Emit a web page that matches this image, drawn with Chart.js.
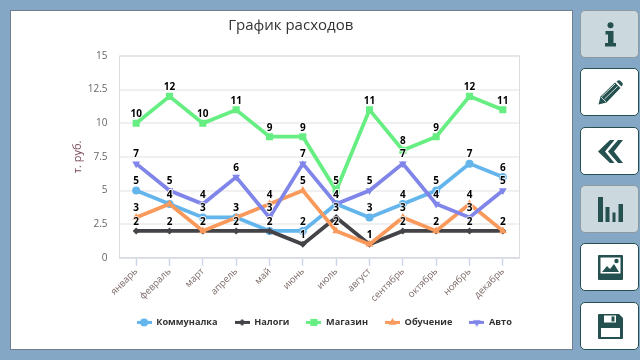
<!DOCTYPE html>
<html>
<head>
  <meta charset="utf-8">
  <title>График расходов</title>
  <script src="https://cdn.jsdelivr.net/npm/chart.js@4"></script>
  <style>
  html, body {
    margin: 0;
    width: 640px;
    height: 360px;
    overflow: hidden;
    background: #85a7c6;
  }
  #panel {
    position: absolute;
    left: 10px;
    top: 10px;
    width: 561px;
    height: 338px;
    background: #fff;
    border: 1px solid #6f7f8c;
  }
  #panel canvas {
    position: absolute;
    left: 0;
    top: 0;
  }
  .btn {
    position: absolute;
    left: 580px;
    width: 59px;
    height: 48px;
    box-sizing: border-box;
    background: #fff;
    border: 1px solid #24504f;
    border-radius: 5px;
    display: flex;
    align-items: center;
    justify-content: center;
  }
  .btn.on {
    background: #cbd8de;
    border-color: #8d9a9f;
  }
  .btn svg {
    width: 25px;
    height: 25px;
    margin-left: 1px;
    fill: #24504f;
  }
  </style>
</head>
<body>
  <div id="panel"><canvas id="chart" width="561" height="338"></canvas></div>

  <div class="btn on" style="top:10px"><svg viewBox="0 0 25 25"><circle cx="12.5" cy="3.2" r="3"/><path d="M7.500 9H15.500V21H18V24.500H7V21H10V12.500H7.500z"/></svg></div>
  <div class="btn" style="top:68px"><svg viewBox="0 0 25 25"><path d="M0.500 24.500L2.500 16.500L17 2.500L22.500 8L8.500 22.500z M18.500 1.500L20 0.500Q21.500 0 22.500 1L24.500 3Q25 4 24.500 5L23.500 6.500z"/><path d="M4 16.500L17 4M6.500 19L19.500 6.500M3 17L8 22" stroke="#fff" stroke-width=".8" fill="none"/></svg></div>
  <div class="btn" style="top:127px"><svg viewBox="0 0 25 25"><path d="M0 12.500L12 1H16.500L7 12.500L16.500 24H12z M10 12.500L20 1H25L16 12.500L25 24H20z"/></svg></div>
  <div class="btn on" style="top:185px"><svg viewBox="0 0 25 25"><path d="M0 0H5V25H0z M7.500 10H11.500V25H7.500z M14.500 15.500H17.500V25H14.500z M20.500 7H25V25H20.500z"/></svg></div>
  <div class="btn" style="top:243px"><svg viewBox="0 0 25 25"><path fill-rule="evenodd" d="M1 0H24Q25 0 25 1V24Q25 25 24 25H1Q0 25 0 24V1Q0 0 1 0z M2.500 2.500V18.500H22.500V2.500z"/><path d="M4 17L9 11L12 14L16 9L21 17z"/><circle cx="18.500" cy="6" r="2.200"/></svg></div>
  <div class="btn" style="top:302px"><svg viewBox="0 0 25 25"><path fill-rule="evenodd" d="M1 0H21L25 4V24Q25 25 24 25H1Q0 25 0 24V1Q0 0 1 0z M6 1.500V8.500H18V1.500z M3 14V23H22V14z"/><path d="M13.500 2.500H16.500V7.500H13.500z"/></svg></div>

  <script>
    const months = ['январь', 'февраль', 'март', 'апрель', 'май', 'июнь', 'июль', 'август', 'сентябрь', 'октябрь', 'ноябрь', 'декабрь'];
    const kommunalka = [5, 4, 3, 3, 2, 2, 4, 3, 4, 5, 7, 6];
    const nalogi = [2, 2, 2, 2, 2, 1, 3, 1, 2, 2, 2, 2];
    const magazin = [10, 12, 10, 11, 9, 9, 5, 11, 8, 9, 12, 11];
    const obuchenie = [3, 4, 2, 3, 4, 5, 2, 1, 3, 2, 4, 2];
    const avto = [7, 5, 4, 6, 3, 7, 4, 5, 7, 4, 3, 5];

    const colors = ['#64b5ec', '#434348', '#66ee82', '#f99a5c', '#8085e9'];

    function makeSeries(i, label, data, pointStyle, radius, rotation) {
      return {
        label: label,
        data: data,
        order: -i,
        borderColor: colors[i],
        backgroundColor: colors[i],
        borderWidth: 3.75,
        tension: 0,
        pointStyle: pointStyle,
        pointRotation: rotation || 0,
        pointRadius: radius,
        pointHoverRadius: radius,
        pointBorderWidth: 0
      };
    }

    // значок легенды: отрезок линии с маркером
    function legendIcon(ds) {
      const c = document.createElement('canvas');
      c.width = 15;
      c.height = 9;
      const g = c.getContext('2d');
      g.fillStyle = ds.borderColor;
      g.fillRect(0, 3, 15, 3);
      Chart.helpers.drawPoint(g, {
        pointStyle: ds.pointStyle,
        rotation: ds.pointRotation,
        radius: ds.pointRadius,
        borderWidth: 0
      }, 7.5, 4.5);
      return c;
    }

    const extras = {
      id: 'extras',
      // заголовок и легенда в оригинале стоят не по центру холста
      afterLayout(chart) {
        chart.titleBlock.left -= 4.5;
        chart.titleBlock.right -= 4.5;
        chart.legend.left += 29;
        chart.legend.right += 29;
        chart.legend.top -= 8;
        chart.legend.bottom -= 8;
      },
      beforeDatasetsDraw(chart) {
        const a = chart.chartArea;
        const ctx = chart.ctx;
        ctx.save();
        ctx.strokeStyle = '#dcdcdc';
        ctx.lineWidth = 1;
        ctx.strokeRect(a.left, a.top, a.right - a.left, a.bottom - a.top);
        ctx.restore();
      },
      // подписи значений над точками
      afterDatasetsDraw(chart) {
        const ctx = chart.ctx;
        ctx.save();
        ctx.font = 'bold 10px "Open Sans"';
        ctx.textAlign = 'center';
        ctx.textBaseline = 'bottom';
        ctx.lineWidth = 2;
        ctx.lineJoin = 'round';
        ctx.strokeStyle = 'rgba(255,255,255,0.75)';
        ctx.fillStyle = '#000';
        chart.data.datasets.forEach((ds, i) => {
          chart.getDatasetMeta(i).data.forEach((pt, j) => {
            ctx.strokeText(ds.data[j], pt.x, pt.y - 4);
            ctx.fillText(ds.data[j], pt.x, pt.y - 4);
          });
        });
        ctx.restore();
      }
    };

    new Chart(document.getElementById('chart'), {
      type: 'line',
      data: {
        labels: months,
        datasets: [
          makeSeries(0, 'Коммуналка', kommunalka, 'circle', 4),
          makeSeries(1, 'Налоги', nalogi, 'rectRot', 3.5),
          makeSeries(2, 'Магазин', magazin, 'rect', 5),
          makeSeries(3, 'Обучение', obuchenie, 'triangle', 4.5),
          makeSeries(4, 'Авто', avto, 'triangle', 4.5, 180)
        ]
      },
      options: {
        responsive: false,
        animation: false,
        layout: { padding: { left: 60, right: 52.5, top: 6, bottom: 4 } },
        plugins: {
          title: {
            display: true,
            text: 'График расходов',
            color: '#333',
            font: { family: '"Open Sans"', size: 15, weight: 'normal' },
            padding: { top: 0, bottom: 21 }
          },
          legend: {
            position: 'bottom',
            labels: {
              usePointStyle: true,
              pointStyleWidth: 15,
              boxHeight: 9,
              color: '#333',
              font: { family: '"Open Sans"', size: 9.2, weight: 'bold' },
              padding: 17,
              sort: (a, b) => a.datasetIndex - b.datasetIndex,
              generateLabels(chart) {
                return Chart.defaults.plugins.legend.labels.generateLabels(chart).map(item => {
                  item.pointStyle = legendIcon(chart.data.datasets[item.datasetIndex]);
                  item.rotation = 0;
                  return item;
                });
              }
            }
          },
          tooltip: { enabled: false }
        },
        scales: {
          x: {
            offset: true,
            afterFit(scale) { scale.height = 51; },
            grid: { offset: false, drawOnChartArea: false, tickColor: '#ccd6eb', tickLength: 8, tickWidth: 1.5 },
            border: { color: '#ccd6eb', width: 1.5 },
            ticks: {
              color: '#7a6a66',
              padding: 0,
              maxRotation: 45,
              minRotation: 45,
              font: { family: '"Open Sans"', size: 9.5 },
              autoSkip: false
            }
          },
          y: {
            min: 0,
            max: 15,
            afterFit(scale) { scale.width = 48.5; },
            grid: { color: '#f0f0f0', drawTicks: false, lineWidth: 2 },
            border: { color: '#dcdcdc' },
            title: {
              display: true,
              text: 'т. руб.',
              color: '#7a4a5a',
              font: { family: '"Open Sans"', size: 11 },
              padding: { top: 0, bottom: 0 }
            },
            ticks: {
              color: '#666',
              stepSize: 2.5,
              padding: 12,
              font: { family: '"Open Sans"', size: 10 }
            }
          }
        }
      },
      plugins: [extras]
    });
  </script>
</body>
</html>
